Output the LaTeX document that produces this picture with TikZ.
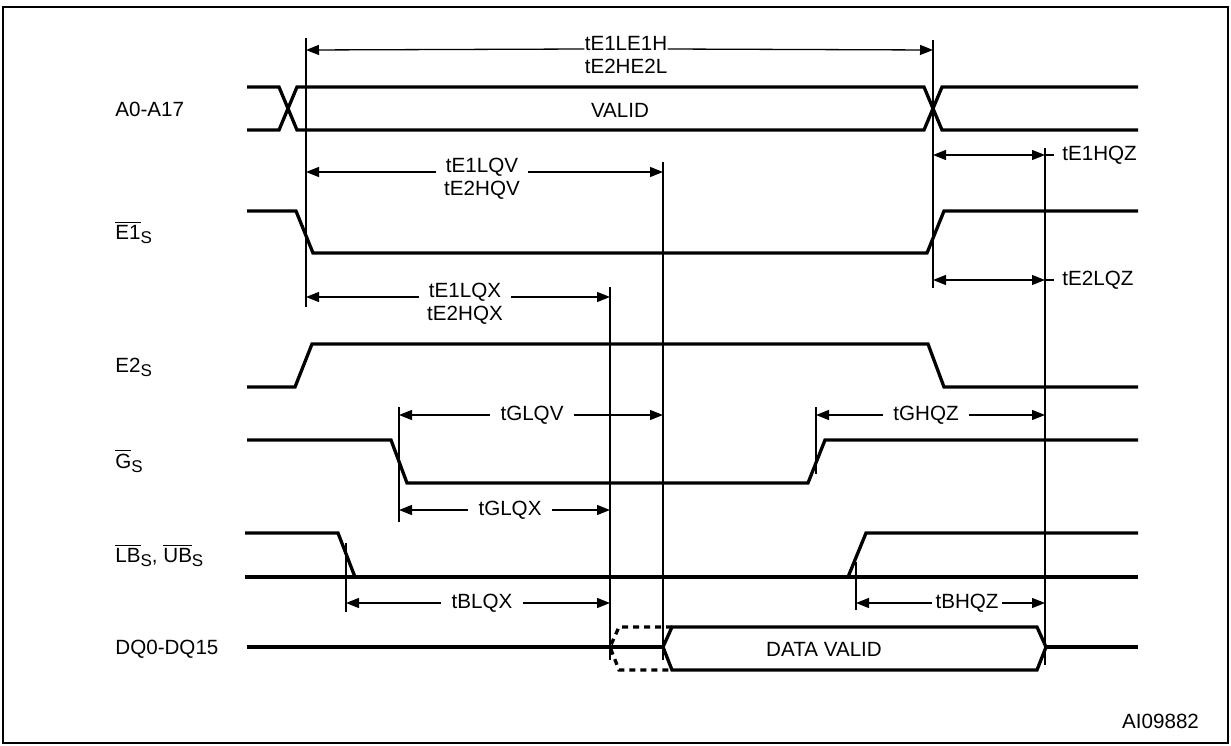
\documentclass[tikz,border=0pt]{standalone}
\usepackage{fontspec}
\setmainfont{Liberation Sans}
\usetikzlibrary{arrows.meta,positioning}

\newcommand{\ovl}[1]{$\overline{\mbox{#1}}$}
\newcommand{\subS}{\raisebox{-0.4ex}{\fontsize{8.5}{10}\selectfont S}}

\begin{document}
\begin{tikzpicture}[x=0.5pt, y=-0.5pt, >={Triangle[length=6.5pt,width=5pt]},
		font=\fontsize{10.3}{12}\selectfont,
		sig/.style={line width=1.65pt, line join=miter},
		guide/.style={line width=0.65pt},
		dim/.style={guide, ->},
		tlabel/.style={inner ysep=0pt, inner xsep=5pt},
		signame/.style={anchor=base west, inner sep=0pt}]
		\useasboundingbox (0,0) rectangle (1231,745);
		\draw[line width=1.2pt] (3,7) rectangle (1228,743);
		
		% Define timing points
		\coordinate (tA) at (306,38);
		\coordinate (tB) at (933,40);
		\coordinate (tV) at (663,162);
		\coordinate (tX) at (610,287);
		\coordinate (tZ) at (1045,148);
		\coordinate (tG) at (399,407);
		\coordinate (tGH) at (816,407);
		\coordinate (tBL) at (346,543);
		\coordinate (tBH) at (856,562);
		
		\draw[guide] (tA) -- ++(0,269);
		\draw[guide] (tB) -- ++(0,248);
		\draw[guide] (tV) -- ++(0,498);
		\draw[guide] (tX) -- ++(0,373);
		\draw[guide] (tZ) -- ++(0,517);
		\draw[guide] (tG) -- ++(0,115);
		\draw[guide] (tGH) -- ++(0,67);
		\draw[guide] (tBL) -- ++(0,69);
		\draw[guide] (tBH) -- ++(0,48);
		
		% Define signal names
		\node[signame] (addr) at (115,116) {A0-A17};
		\node[signame] (eone) at (115,239) {\ovl{E1}\subS};
		\node[signame] (etwo) at (115,372) {E2\subS};
		\node[signame] (goe) at (115,468) {\ovl{G}\subS};
		\node[signame] (byte) at (115,562) {\ovl{LB}\subS, \ovl{UB}\subS};
		\node[signame] (dq) at (115,654) {DQ0-DQ15};
		
		% Define waveforms
		\draw[sig] (247,87) -- (279,87) -- (297,130) -- (924,130) -- (942,87) -- (1138,87);
		\draw[sig] (247,130) -- (279,130) -- (297,87) -- (924,87) -- (942,130) -- (1138,130);
		\node (valid) at (620,110) {VALID};
		\draw[sig] (247,211) -- (296,211) -- (313,253) -- (927,253) -- (944,211) -- (1138,211);
		\draw[sig] (247,387) -- (295,387) -- (312,344) -- (928,344) -- (944,387) -- (1138,387);
		\draw[sig] (247,440) -- (391,440) -- (407,483) -- (808,483) -- (825,440) -- (1138,440);
		\draw[sig] (245,533) -- (338,533) -- (355,577);
		\draw[sig] (245,577) -- (1138,577);
		\draw[sig] (848,577) -- (866,533) -- (1138,533);
		\draw[sig] (247,647) -- (663,647);
		\draw[sig, dash pattern=on 3pt off 2.5pt] (672,627) -- (619,627) -- (610,647) -- (619,670) -- (672,670);
		\draw[sig] (663,647) -- (672,627) -- (1037,627) -- (1046,647) -- (1037,670) -- (672,670) -- cycle;
		\draw[sig] (1046,647) -- (1138,647);
		\node (dvalid) at (824,649) {DATA VALID};
		
		% Define timing arrows
		\node[tlabel, anchor=base, inner xsep=0pt] (ee) at (626,50) {tE1LE1H};
		\node[tlabel, anchor=base] at (626,73) {tE2HE2L};
		\draw[dim] (ee.base west) ++(0,-1) -- (tA |- ee.base);
		\draw[dim] (ee.base east) ++(0,-1) -- (tB |- ee.base);
		
		\node[tlabel, anchor=base] (lqv) at (482,172) {tE1LQV};
		\node[tlabel, anchor=base] at (482,195) {tE2HQV};
		\draw[dim] (lqv.base west) -- (tA |- lqv.base);
		\draw[dim] (lqv.base east) -- (tV |- lqv.base);
		
		\node[tlabel, anchor=base] (lqx) at (465,297) {tE1LQX};
		\node[tlabel, anchor=base] at (465,320) {tE2HQX};
		\draw[dim] (lqx.base west) -- (tA |- lqx.base);
		\draw[dim] (lqx.base east) -- (tX |- lqx.base);
		
		\node[tlabel, anchor=west, inner xsep=4pt] (ehz) at (1054,155) {tE1HQZ};
		\draw[dim, <->] (tB |- ehz) -- (tZ |- ehz);
		\draw[guide] (tZ |- ehz) -- (ehz.west);
		
		\node[tlabel, anchor=west, inner xsep=4pt] (elz) at (1054,280) {tE2LQZ};
		\draw[dim, <->] (tB |- elz) -- (tZ |- elz);
		\draw[guide] (tZ |- elz) -- (elz.west);
		
		\node[tlabel] (glqv) at (532,415) {tGLQV};
		\draw[dim] (glqv) -- (tG |- glqv);
		\draw[dim] (glqv) -- (tV |- glqv);
		
		\node[tlabel] (glqx) at (510,510) {tGLQX};
		\draw[dim] (glqx) -- (tG |- glqx);
		\draw[dim] (glqx) -- (tX |- glqx);
		
		\node[tlabel] (ghqz) at (926,415) {tGHQZ};
		\draw[dim] (ghqz) -- (tGH |- ghqz);
		\draw[dim] (ghqz) -- (tZ |- ghqz);
		
		\node[tlabel] (blqx) at (482,603) {tBLQX};
		\draw[dim] (blqx) -- (tBL |- blqx);
		\draw[dim] (blqx) -- (tX |- blqx);
		
		\node[tlabel, inner xsep=1.5pt] (bhqz) at (967,603) {tBHQZ};
		\draw[dim] (bhqz) -- (tBH |- bhqz);
		\draw[dim] (bhqz) -- (tZ |- bhqz);
		
		\node[anchor=east] (fig) at (1206,721) {AI09882};
	\end{tikzpicture}
\end{document}
